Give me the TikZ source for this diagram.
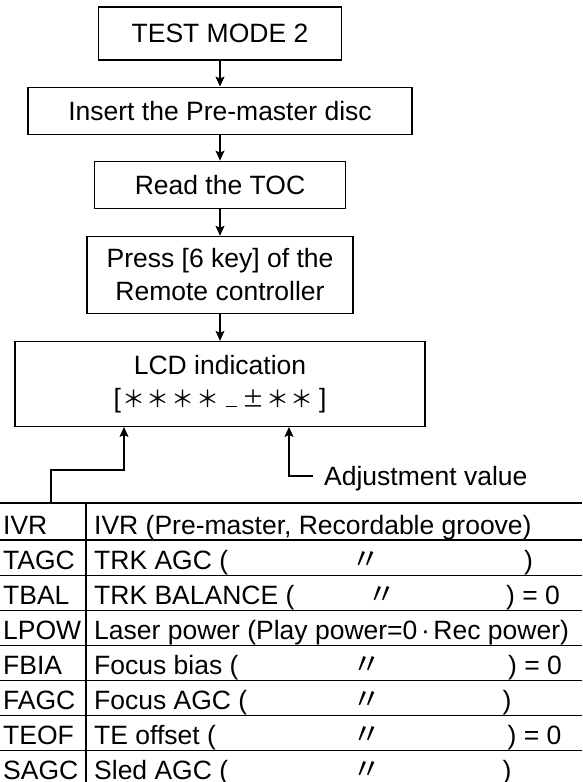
\documentclass[tikz,border=0pt]{standalone}
\usepackage{fontspec}
\setmainfont{Liberation Sans}
\newfontfamily\jpfont{Noto Sans CJK JP}
\usetikzlibrary{arrows.meta,positioning}
\newcommand\lcdch[2]{\makebox[#1]{#2}}
\newcommand\lcdstar{\lcdch{25pt}{\jpfont\fontsize{23}{23}\selectfont ＊}}
\newcommand\ditto{{\jpfont\fontsize{29}{29}\selectfont 〃}}

\begin{document}
\begin{tikzpicture}[x=1pt, y=-1pt, font=\fontsize{26.5}{33}\selectfont,
  flowbox/.style={draw, line width=1.1pt, align=center, inner sep=0pt},
  arr/.style={-{Stealth[length=10pt,width=9pt,inset=2pt]}, line width=1.1pt},
  rule/.style={line width=1.1pt},
  cell/.style={anchor=base west, inner sep=0pt}]
\useasboundingbox (0,0) rectangle (582,782);
% flow
\node[flowbox, minimum width=243pt, minimum height=53pt] (mode) at (220,33.5) {TEST MODE 2};
\node[flowbox, minimum width=384pt, minimum height=47pt, below=26pt of mode] (disc) {Insert the Pre-master disc};
\node[flowbox, minimum width=251pt, minimum height=47pt, below=26pt of disc] (toc) {Read the TOC};
\node[flowbox, minimum width=266pt, minimum height=77pt, below=27pt of toc] (key) {Press [6 key] of the\\Remote controller};
\node[flowbox, minimum width=410pt, minimum height=85pt, below=27pt of key] (lcd) {LCD indication\\{[}\lcdstar\lcdstar\lcdstar\lcdstar\lcdch{20pt}{\rule{11pt}{1.3pt}}\lcdch{24pt}{\jpfont\fontsize{22}{22}\selectfont ±}\lcdstar\lcdstar\hspace{4pt}]};
\foreach \a/\b in {mode/disc,disc/toc,toc/key,key/lcd}\draw[arr](\a)--(\b);
% table
\draw[rule] (0,503) -- (582,503);
\foreach \k in {1,...,7}\draw[rule] (0,540+35.1*\k-35.1) -- (582,540+35.1*\k-35.1);
\draw[rule] (86,503) -- (86,782);
\foreach \code/\desc [count=\i] in {IVR/{IVR (Pre-master, Recordable groove)}, TAGC/{TRK AGC (}, TBAL/{TRK BALANCE (}, LPOW/{Laser power (Play power=0\lcdch{16pt}{·}Rec power)}, FBIA/{Focus bias (}, FAGC/{Focus AGC (}, TEOF/{TE offset (}, SAGC/{Sled AGC (}}{
  \node[cell] (code\i) at (3,499.5+35*\i) {\code};
  \node[cell] (desc\i) at (94,499.5+35*\i) {\desc};
}
\foreach \i/\dx/\tx/\tail in {2/366/524/), 3/382/506/{) = 0}, 5/367/508/{) = 0}, 6/367/502.5/), 7/367/507.5/{) = 0}, 8/367/502.5/)}{
  \node[inner sep=0pt] (same\i) at (\dx,499.5+35*\i-9) {\ditto};
  \node[cell] (tail\i) at (\tx,499.5+35*\i) {\tail};
}
% pointers to the LCD
\coordinate (tabtop) at (51,503);
\draw[arr] (tabtop) |- ([xshift=-96pt, yshift=-43pt]lcd.south) -- ([xshift=-96pt]lcd.south);
\node[anchor=west, inner xsep=11pt, inner ysep=0pt, text depth=0pt] (adj) at (313,476) {Adjustment value};
\draw[arr] (adj.west) -| ([xshift=69pt]lcd.south);
\end{tikzpicture}
\end{document}
